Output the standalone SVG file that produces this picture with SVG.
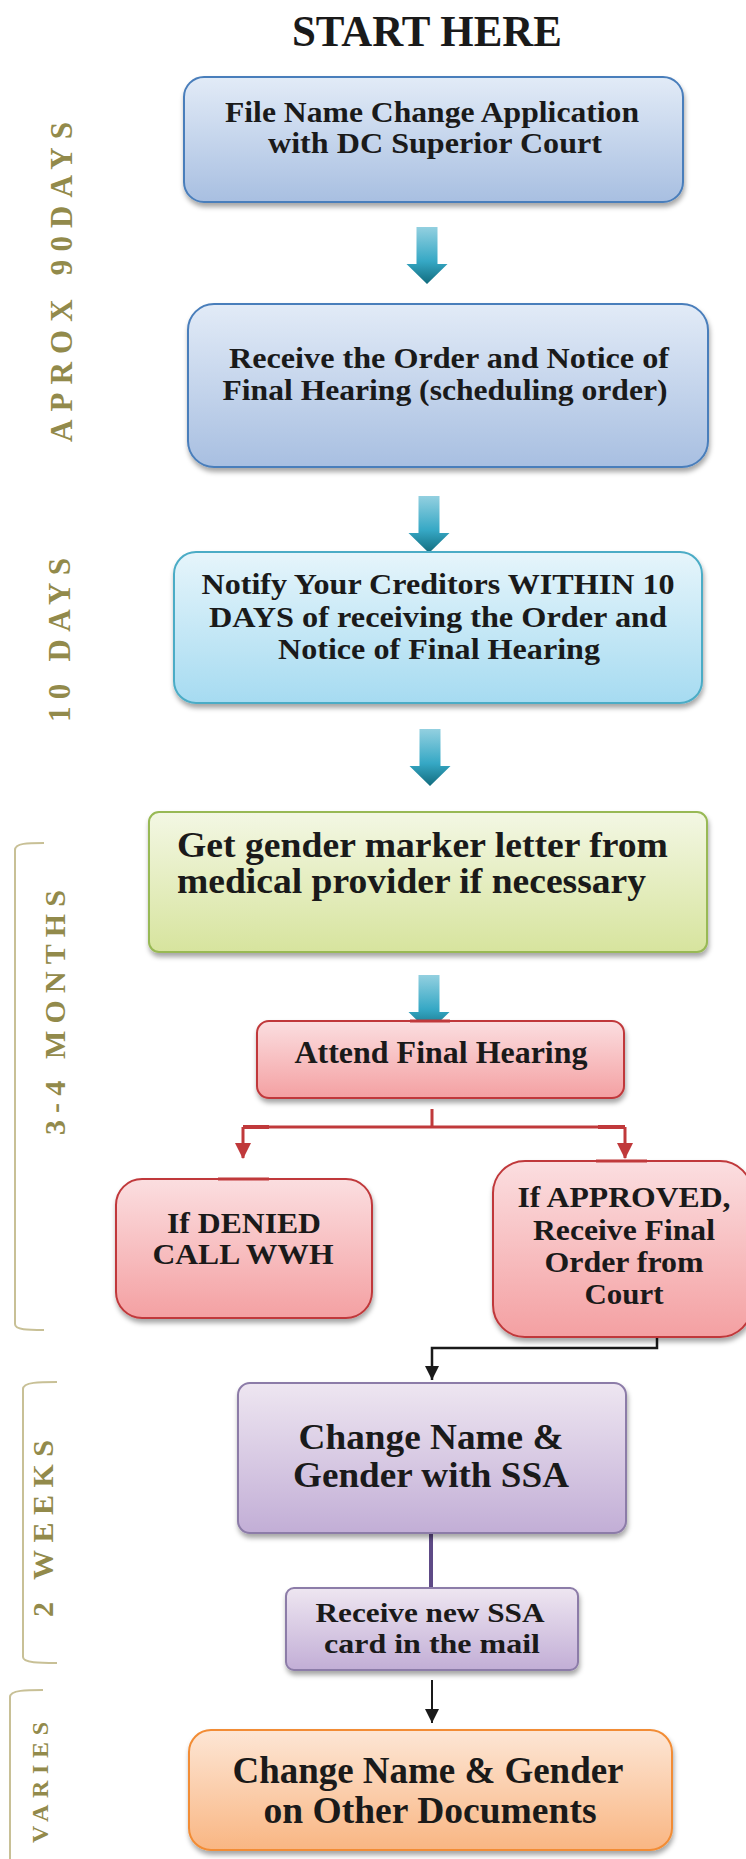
<svg xmlns="http://www.w3.org/2000/svg" width="746" height="1859" viewBox="0 0 746 1859">
<defs>
<linearGradient id="gBlue" x1="0" y1="0" x2="0" y2="1"><stop offset="0" stop-color="#E2EBF7"/><stop offset="1" stop-color="#A8BFE1"/></linearGradient>
<linearGradient id="gCyan" x1="0" y1="0" x2="0" y2="1"><stop offset="0" stop-color="#E6F5FB"/><stop offset="1" stop-color="#A6DBF1"/></linearGradient>
<linearGradient id="gGreen" x1="0" y1="0" x2="0" y2="1"><stop offset="0" stop-color="#F3F7E4"/><stop offset="1" stop-color="#D7E49E"/></linearGradient>
<linearGradient id="gRed" x1="0" y1="0" x2="0" y2="1"><stop offset="0" stop-color="#FBDEE0"/><stop offset="1" stop-color="#F4A0A2"/></linearGradient>
<linearGradient id="gPurple" x1="0" y1="0" x2="0" y2="1"><stop offset="0" stop-color="#EEE6F1"/><stop offset="1" stop-color="#C2AED6"/></linearGradient>
<linearGradient id="gOrange" x1="0" y1="0" x2="0" y2="1"><stop offset="0" stop-color="#FDE6D5"/><stop offset="1" stop-color="#F9B683"/></linearGradient>
<linearGradient id="gArrow" x1="0" y1="0" x2="0" y2="1"><stop offset="0" stop-color="#93D0E0"/><stop offset="0.6" stop-color="#36A8C5"/><stop offset="1" stop-color="#126C7E"/></linearGradient>
<filter id="sh" x="-10%" y="-10%" width="120%" height="130%"><feDropShadow dx="1" dy="4" stdDeviation="2.5" flood-color="#000" flood-opacity="0.35"/></filter>
<path id="blockArrow" d="M -10.5 0 H 10.5 V 37 H 20.5 L 0 57 L -20.5 37 H -10.5 Z"/>
<marker id="mBlack" markerUnits="userSpaceOnUse" markerWidth="14" markerHeight="16" refX="14" refY="7" orient="auto" viewBox="0 0 14 14"><path d="M0 0 L14 7 L0 14 Z" fill="#1A1A1A"/></marker>
<marker id="mRed2" markerUnits="userSpaceOnUse" markerWidth="16" markerHeight="16" refX="15" refY="8" orient="auto" viewBox="0 0 16 16"><path d="M0 0 L16 8 L0 16 Z" fill="#C0393B"/></marker>
</defs>
<style>
.t{font-family:"Liberation Serif","Times New Roman",serif;font-weight:bold;fill:#1A1A1A;text-anchor:middle}
.lbl{font-family:"Liberation Serif","Times New Roman",serif;font-weight:bold;fill:#928A4B}
.br{fill:none;stroke:#C8C096;stroke-width:2}
.box{filter:url(#sh);stroke-width:2}
.arr{fill:url(#gArrow)}
</style>

<text class="t" x="427" y="46" font-size="44" textLength="270" lengthAdjust="spacingAndGlyphs">START HERE</text>

<g id="side-labels">
<text class="lbl" transform="translate(72,442) rotate(-90)" font-size="31" textLength="320">APROX 90DAYS</text>
<text class="lbl" transform="translate(70,722) rotate(-90)" font-size="31" textLength="164">10 DAYS</text>
<text class="lbl" transform="translate(65,1135) rotate(-90)" font-size="30" textLength="245">3-4 MONTHS</text>
<text class="lbl" transform="translate(53,1617) rotate(-90)" font-size="30" textLength="177">2 WEEKS</text>
<text class="lbl" transform="translate(48,1843) rotate(-90)" font-size="24" textLength="121">VARIES</text>
<path class="br" d="M44 843 C28 843 15 843 15 850 L15 1324 C15 1330 28 1330 44 1330"/>
<path class="br" d="M57 1382 C40 1382 23 1382 23 1389 L23 1657 C23 1663 40 1663 57 1663"/>
<path class="br" d="M43 1690 C27 1690 10 1690 10 1697 L10 1859"/>
</g>

<g id="connectors">
<use href="#blockArrow" class="arr" transform="translate(427,227)"/>
<use href="#blockArrow" class="arr" transform="translate(429,496)"/>
<use href="#blockArrow" class="arr" transform="translate(430,729)"/>
<use href="#blockArrow" class="arr" transform="translate(429,975)"/>
<path d="M432 1109 V1127 M243 1127 H625" fill="none" stroke="#C0393B" stroke-width="3"/>
<path d="M243 1127 V1158" fill="none" stroke="#C0393B" stroke-width="3" marker-end="url(#mRed2)"/>
<path d="M625 1127 V1158" fill="none" stroke="#C0393B" stroke-width="3" marker-end="url(#mRed2)"/>
<path d="M243 1127 H269 M598 1127 H625" fill="none" stroke="#C0393B" stroke-width="4"/>
<path d="M657 1331 V1348 H432 V1380" fill="none" stroke="#1A1A1A" stroke-width="2.5" marker-end="url(#mBlack)"/>
<path d="M431 1533 V1588" fill="none" stroke="#5E4A86" stroke-width="4"/>
<path d="M432 1680 V1723" fill="none" stroke="#1A1A1A" stroke-width="2" marker-end="url(#mBlack)"/>
</g>

<g id="n1">
<rect class="box" x="184" y="77" width="499" height="125" rx="20" fill="url(#gBlue)" stroke="#4A7EBB"/>
<text class="t" x="432" y="122" font-size="30" textLength="414" lengthAdjust="spacingAndGlyphs">File Name Change Application</text>
<text class="t" x="435" y="153" font-size="30" textLength="334" lengthAdjust="spacingAndGlyphs">with DC Superior Court</text>
</g>

<g id="n2">
<rect class="box" x="188" y="304" width="520" height="163" rx="26" fill="url(#gBlue)" stroke="#4A7EBB"/>
<text class="t" x="449" y="368" font-size="30" textLength="440" lengthAdjust="spacingAndGlyphs">Receive the Order and Notice of</text>
<text class="t" x="445" y="400" font-size="30" textLength="445" lengthAdjust="spacingAndGlyphs">Final Hearing (scheduling order)</text>
</g>

<g id="n3">
<rect class="box" x="174" y="552" width="528" height="151" rx="22" fill="url(#gCyan)" stroke="#4BACC6"/>
<text class="t" x="438" y="594" font-size="30" textLength="473" lengthAdjust="spacingAndGlyphs">Notify Your Creditors WITHIN 10</text>
<text class="t" x="438" y="627" font-size="30" textLength="458" lengthAdjust="spacingAndGlyphs">DAYS of receiving the Order and</text>
<text class="t" x="439" y="659" font-size="30" textLength="322" lengthAdjust="spacingAndGlyphs">Notice of Final Hearing</text>
</g>

<g id="n4">
<rect class="box" x="149" y="812" width="558" height="140" rx="10" fill="url(#gGreen)" stroke="#98B954"/>
<text class="t" x="177" y="857" font-size="35" textLength="491" lengthAdjust="spacingAndGlyphs" style="text-anchor:start">Get gender marker letter from</text>
<text class="t" x="177" y="893" font-size="35" textLength="469" lengthAdjust="spacingAndGlyphs" style="text-anchor:start">medical provider if necessary</text>
</g>

<g id="n5">
<rect class="box" x="257" y="1021" width="367" height="77" rx="12" fill="url(#gRed)" stroke="#C0393B"/>
<path d="M410 1021 H450" stroke="#C0393B" stroke-width="3"/>
<text class="t" x="441" y="1063" font-size="31" textLength="293" lengthAdjust="spacingAndGlyphs">Attend Final Hearing</text>
</g>

<g id="n6">
<rect class="box" x="116" y="1179" width="256" height="139" rx="26" fill="url(#gRed)" stroke="#C0393B"/>
<path d="M218 1179 H269" stroke="#C0393B" stroke-width="3"/>
<text class="t" x="244" y="1233" font-size="30" textLength="154" lengthAdjust="spacingAndGlyphs">If DENIED</text>
<text class="t" x="243" y="1264" font-size="30" textLength="181" lengthAdjust="spacingAndGlyphs">CALL WWH</text>
</g>

<g id="n7">
<rect class="box" x="493" y="1161" width="259" height="176" rx="32" fill="url(#gRed)" stroke="#C0393B"/>
<path d="M596 1161 H647" stroke="#C0393B" stroke-width="3"/>
<text class="t" x="624" y="1207" font-size="30" textLength="213" lengthAdjust="spacingAndGlyphs">If APPROVED,</text>
<text class="t" x="624" y="1240" font-size="30" textLength="182" lengthAdjust="spacingAndGlyphs">Receive Final</text>
<text class="t" x="624" y="1272" font-size="30" textLength="159" lengthAdjust="spacingAndGlyphs">Order from</text>
<text class="t" x="624" y="1304" font-size="30" textLength="79" lengthAdjust="spacingAndGlyphs">Court</text>
</g>

<g id="n8">
<rect class="box" x="238" y="1383" width="388" height="150" rx="12" fill="url(#gPurple)" stroke="#8C7BA8"/>
<text class="t" x="431" y="1449" font-size="35" textLength="265" lengthAdjust="spacingAndGlyphs">Change Name &amp;</text>
<text class="t" x="431" y="1487" font-size="35" textLength="276" lengthAdjust="spacingAndGlyphs">Gender with SSA</text>
</g>

<g id="n9">
<rect class="box" x="286" y="1588" width="292" height="82" rx="8" fill="url(#gPurple)" stroke="#8C7BA8"/>
<text class="t" x="430" y="1622" font-size="28" textLength="229" lengthAdjust="spacingAndGlyphs">Receive new SSA</text>
<text class="t" x="432" y="1653" font-size="28" textLength="216" lengthAdjust="spacingAndGlyphs">card in the mail</text>
</g>

<g id="n10">
<rect class="box" x="189" y="1730" width="483" height="120" rx="22" fill="url(#gOrange)" stroke="#F28C34"/>
<text class="t" x="428" y="1783" font-size="37" textLength="391" lengthAdjust="spacingAndGlyphs">Change Name &amp; Gender</text>
<text class="t" x="430" y="1823" font-size="37" textLength="333" lengthAdjust="spacingAndGlyphs">on Other Documents</text>
</g>
</svg>
